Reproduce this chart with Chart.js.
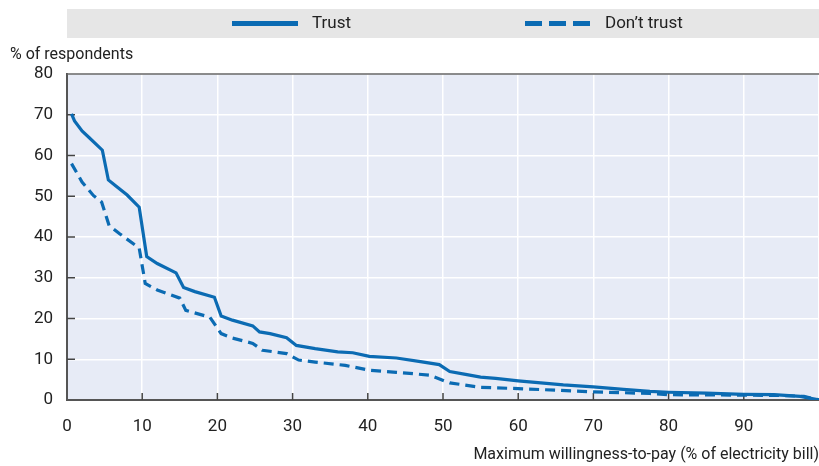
<!DOCTYPE html>
<html>
<head>
<meta charset="utf-8">
<script src="https://cdn.jsdelivr.net/npm/chart.js@4/dist/chart.umd.min.js"></script>
<style>
  body { margin: 0; background: #fff; }
  #wrap { width: 819px; height: 466px; }
</style>
</head>
<body>
<div id="wrap"><canvas id="myChart"></canvas></div>
<script>
// willingness-to-pay (% of bill) and share of respondents (%)
const trustX = [0.6, 1, 2, 3, 4.7, 5.5, 6.5, 8, 9.6, 10.6, 12, 14.5, 15.5, 17, 19.6, 20.5, 22, 24.7, 25.6, 27, 29.2, 30.5, 33, 36, 38, 40.2, 43.8, 47, 49.5, 50.9, 53, 55, 57, 60, 63, 66, 70, 74, 77.5, 80, 85, 90, 94, 97.5, 100];
const trustY = [70.2, 68.5, 66, 64.3, 61.3, 54, 52.5, 50.3, 47.3, 35.2, 33.5, 31.2, 27.6, 26.6, 25.2, 20.6, 19.6, 18.2, 16.7, 16.3, 15.3, 13.4, 12.6, 11.8, 11.6, 10.7, 10.3, 9.4, 8.7, 7, 6.3, 5.6, 5.3, 4.7, 4.2, 3.7, 3.2, 2.6, 2.1, 1.9, 1.7, 1.4, 1.3, 0.9, 0];
const distrustX = [0.6, 2, 3.5, 4.6, 5.6, 7, 9.6, 10.4, 12, 15, 15.8, 19, 20.5, 22, 24.7, 26, 29.2, 30.8, 33, 37, 40.2, 43.8, 48.2, 50.9, 55, 60, 65, 70, 77.5, 80, 90, 95, 98, 100];
const distrustY = [58, 53.5, 50.2, 48.6, 42.8, 40.8, 37.3, 28.6, 27, 25, 22, 20.3, 16.3, 15.2, 13.9, 12.2, 11.4, 9.8, 9.3, 8.5, 7.3, 6.8, 6.1, 4.2, 3.1, 2.8, 2.4, 2.0, 1.6, 1.3, 1.2, 1.1, 0.9, 0];
const seriesLabels = ["Trust", "Don\u2019t trust"];
const xTicks = [0, 10, 20, 30, 40, 50, 60, 70, 80, 90];
const yTicks = [0, 10, 20, 30, 40, 50, 60, 70, 80];

const blue = "#0b6bb3";
const fontFam = "Roboto, 'Liberation Sans', sans-serif";

function toPoints(xs, ys) {
    return xs.map((x, i) => ({ x, y: ys[i] }));
}

// plot background, top border line, inward tick marks
const plotFrame = {
    id: "plotFrame",
    beforeDraw(chart) {
        const { ctx, chartArea: a } = chart;
        ctx.save();
        ctx.fillStyle = "#e7ebf6";
        ctx.fillRect(a.left, a.top, a.right - a.left, a.bottom - a.top);
        ctx.restore();
    },
    beforeDatasetsDraw(chart) {
        const { ctx, chartArea: a, scales } = chart;
        ctx.save();
        ctx.strokeStyle = "#666";
        ctx.lineWidth = 1.5;
        ctx.beginPath();
        ctx.moveTo(a.left, a.top);
        ctx.lineTo(a.right, a.top);
        ctx.stroke();
        ctx.strokeStyle = "#444";
        ctx.lineWidth = 1.5;
        ctx.beginPath();
        xTicks.slice(1).forEach(v => {
            const px = scales.x.getPixelForValue(v);
            ctx.moveTo(px, a.bottom);
            ctx.lineTo(px, a.bottom - 7);
        });
        yTicks.slice(1, -1).forEach(v => {
            const py = scales.y.getPixelForValue(v);
            ctx.moveTo(a.left, py);
            ctx.lineTo(a.left + 8, py);
        });
        ctx.stroke();
        ctx.restore();
    }
};

// grey legend band above the plot
const bandLegend = {
    id: "bandLegend",
    afterDraw(chart) {
        const { ctx, chartArea: a } = chart;
        const top = 9, h = 29, cy = top + h / 2;
        const slots = [232, 525];
        ctx.save();
        ctx.fillStyle = "#e6e6e6";
        ctx.fillRect(a.left, top, chart.width - a.left, h);
        chart.data.datasets.forEach((ds, i) => {
            const x0 = slots[i];
            ctx.strokeStyle = ds.borderColor;
            ctx.lineWidth = 5;
            ctx.setLineDash(ds.borderDash && ds.borderDash.length ? [17, 7] : []);
            ctx.beginPath();
            ctx.moveTo(x0, cy);
            ctx.lineTo(x0 + 66, cy);
            ctx.stroke();
            ctx.setLineDash([]);
            ctx.fillStyle = "#222";
            ctx.font = "17px " + fontFam;
            ctx.textBaseline = "middle";
            ctx.textAlign = "left";
            ctx.fillText(ds.label, x0 + 80, cy);
        });
        ctx.restore();
    }
};

const data = {
    datasets: [
        {
            label: seriesLabels[0],
            data: toPoints(trustX, trustY),
            borderColor: blue,
            borderWidth: 3.2,
            pointRadius: 0,
            tension: 0
        },
        {
            label: seriesLabels[1],
            data: toPoints(distrustX, distrustY),
            borderColor: blue,
            borderWidth: 3.2,
            borderDash: [10, 6],
            pointRadius: 0,
            tension: 0
        }
    ]
};

const config = {
    type: "line",
    data,
    options: {
        responsive: true,
        maintainAspectRatio: false,
        animation: false,
        layout: { padding: { left: 10, right: 0, top: 0, bottom: 0 } },
        plugins: {
            legend: { display: false },
            tooltip: { enabled: false },
            title: {
                display: true,
                text: "% of respondents",
                align: "start",
                color: "#222",
                font: { family: fontFam, size: 16, weight: "normal" },
                padding: { top: 45, bottom: 9.8 }
            }
        },
        scales: {
            x: {
                type: "linear",
                min: 0,
                max: 100,
                afterBuildTicks: s => { s.ticks = xTicks.concat([100]).map(v => ({ value: v })); },
                afterFit: s => { s.height = 66; s.paddingRight = 0; },
                ticks: {
                    color: "#222",
                    padding: 17,
                    font: { family: fontFam, size: 17 },
                    callback: v => (v === 100 ? "" : v)
                },
                grid: { color: "#fff", lineWidth: 1.5, drawTicks: false },
                border: { color: "#555", width: 2 },
                title: {
                    display: true,
                    text: "Maximum willingness-to-pay (% of electricity bill)",
                    align: "end",
                    color: "#222",
                    font: { family: fontFam, size: 16 },
                    padding: { top: 0, bottom: 1 }
                }
            },
            y: {
                min: 0,
                max: 80,
                afterBuildTicks: s => { s.ticks = yTicks.map(v => ({ value: v })); },
                afterFit: s => { s.width = 57; },
                ticks: {
                    color: "#222",
                    padding: 14,
                    font: { family: fontFam, size: 17 }
                },
                grid: { color: "#fff", lineWidth: 1.5, drawTicks: false },
                border: { color: "#555", width: 2 }
            }
        }
    },
    plugins: [plotFrame, bandLegend]
};

const myChart = new Chart(document.getElementById("myChart"), config);
</script>
</body>
</html>
